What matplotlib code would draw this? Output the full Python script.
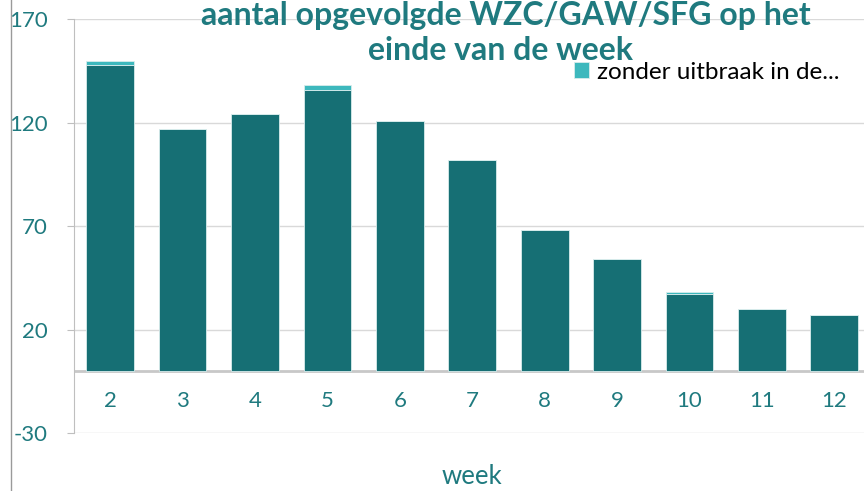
import matplotlib.pyplot as plt
from matplotlib.lines import Line2D

weeks = ["2", "3", "4", "5", "6", "7", "8", "9", "10", "11", "12"]
met_uitbraak = [148, 117, 124, 136, 121, 102, 68, 54, 37, 30, 27]
zonder_uitbraak = [2, 0, 0, 2, 0, 0, 0, 0, 1, 0, 0]
y_ticks = [-30, 20, 70, 120, 170]

dark = "#166f74"
light = "#3db8bd"
teal_text = "#1f7a7f"

plt.rcParams["font.family"] = ["Lato", "DejaVu Sans"]

fig = plt.figure(figsize=(8.64, 4.91), dpi=100)
ax = fig.add_axes([0.0856, 0.118, 0.922, 0.843])

x = list(range(len(weeks)))
ax.bar(x, met_uitbraak, width=0.66, color=dark, edgecolor="#d8ecec",
       linewidth=0.6, zorder=3)
ax.bar(x, zonder_uitbraak, width=0.66, bottom=met_uitbraak, color=light,
       edgecolor="#d8ecec", linewidth=0.6, zorder=3,
       label="zonder uitbraak in de...")

ax.set_xlim(-0.5, len(weeks) - 0.5)
ax.set_ylim(-30, 170)
ax.set_yticks(y_ticks)
ax.set_yticklabels([str(t) for t in y_ticks])
ax.set_xticks(x)
ax.set_xticklabels(weeks)

ax.grid(axis="y", color="#d9d9d9", linewidth=1, zorder=0)
ax.axhline(0, color="#c8c8c8", linewidth=2, zorder=2)

for s in ["top", "right", "bottom"]:
    ax.spines[s].set_visible(False)
ax.spines["left"].set_color("#bfbfbf")

ax.tick_params(axis="y", colors="#bfbfbf", labelcolor=teal_text,
               labelsize=16, length=5, pad=14)
ax.tick_params(axis="x", length=0, labelcolor=teal_text, labelsize=16,
               pad=-30)

fig.text(472 / 864, 1 - 477 / 491, "week", ha="center", va="center",
         color=teal_text, fontsize=18.5)

fig.text(506 / 864, 1 - 15 / 491, "aantal opgevolgde WZC/GAW/SFG op het",
         ha="center", va="center", fontsize=23, fontweight="bold",
         color=teal_text)
fig.text(500 / 864, 1 - 51 / 491, "einde van de week",
         ha="center", va="center", fontsize=23, fontweight="bold",
         color=teal_text)

ax.legend(loc="upper left", bbox_to_anchor=(0.664, 0.874),
          bbox_transform=fig.transFigure, frameon=False, fontsize=17.5,
          handlelength=0.65, handleheight=0.65, handletextpad=0.3,
          borderpad=0, borderaxespad=0)

# chart area border on the left
fig.add_artist(Line2D([0.013, 0.013], [0, 1], transform=fig.transFigure,
                      color="#9a9a9a", linewidth=1))

fig.savefig("out.png", dpi=100)
